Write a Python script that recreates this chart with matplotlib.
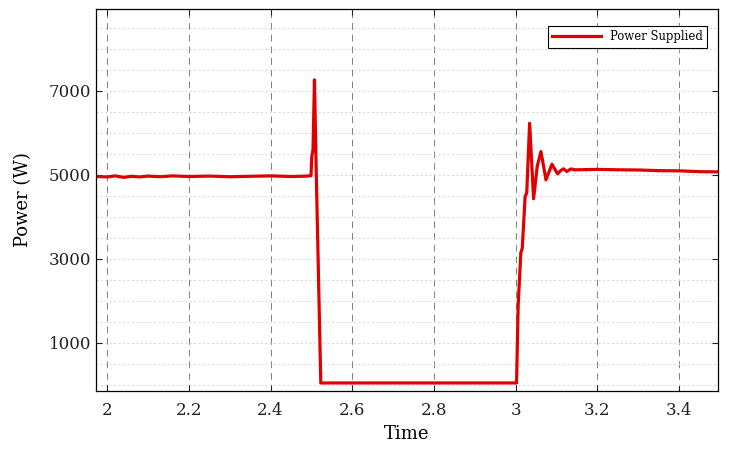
import matplotlib.pyplot as plt
from matplotlib.ticker import MultipleLocator

# time (s) and supplied power (W)
time = [1.973, 2.0, 2.02, 2.04, 2.06, 2.08, 2.1, 2.13, 2.16, 2.2, 2.25, 2.3, 2.35,
        2.4, 2.45, 2.49, 2.499, 2.501, 2.504, 2.5075, 2.512, 2.523, 2.6, 2.8,
        2.95, 3.002, 3.006, 3.0125, 3.016, 3.023, 3.027, 3.034, 3.0437, 3.0525,
        3.0617, 3.074, 3.0886, 3.1024, 3.11, 3.117, 3.125, 3.135, 3.146, 3.2,
        3.25, 3.3, 3.35, 3.4, 3.45, 3.494]
power = [4960, 4950, 4975, 4940, 4965, 4950, 4970, 4955, 4975, 4960, 4970, 4955, 4965,
         4975, 4960, 4970, 4980, 5435, 5600, 7262, 5000, 40, 40, 40,
         40, 40, 1900, 3143, 3250, 4483, 4571, 6230, 4430, 5200,
         5555, 4880, 5254, 5024, 5100, 5143, 5079, 5140, 5119, 5130,
         5120, 5115, 5100, 5095, 5075, 5070]

x_ticks = [2.0, 2.2, 2.4, 2.6, 2.8, 3.0, 3.2, 3.4]
x_labels = ["2", "2.2", "2.4", "2.6", "2.8", "3", "3.2", "3.4"]
y_ticks = [1000, 3000, 5000, 7000]

plt.rcParams['font.family'] = ['DejaVu Serif']

fig = plt.figure(figsize=(7.33, 4.53), dpi=100)
ax = fig.add_axes([0.131, 0.137, 0.848, 0.843])

ax.plot(time, power, color="#e00000", linewidth=2.3, label="Power Supplied")

ax.set_xlim(1.973, 3.494)
ax.set_ylim(-150, 8950)
ax.set_xticks(x_ticks)
ax.set_xticklabels(x_labels)
ax.set_yticks(y_ticks)
ax.yaxis.set_minor_locator(MultipleLocator(500))

ax.grid(axis="x", which="major", color="#808080", linestyle=(0, (7, 5)), linewidth=0.7)
ax.grid(axis="y", which="both", color="#d4d4d4", linestyle=(0, (1.5, 2.5)), linewidth=0.8)
ax.set_axisbelow(True)

ax.tick_params(which="major", direction="in", length=4, top=True, right=True,
               labelsize=12, width=0.8, colors="#222222")
ax.tick_params(axis="x", pad=8)
ax.tick_params(which="minor", length=0)
for s in ax.spines.values():
    s.set_linewidth(0.9)

ax.set_xlabel("Time", fontsize=13, labelpad=4)
ax.set_ylabel("Power (W)", fontsize=13, labelpad=12)

leg = ax.legend(loc="upper right", fontsize=8.4, handlelength=4.2, fancybox=False,
                framealpha=1, edgecolor="black", borderpad=0.35,
                bbox_to_anchor=(0.993, 0.97))
leg.get_frame().set_linewidth(0.8)

fig.savefig("out.png", dpi=100)
